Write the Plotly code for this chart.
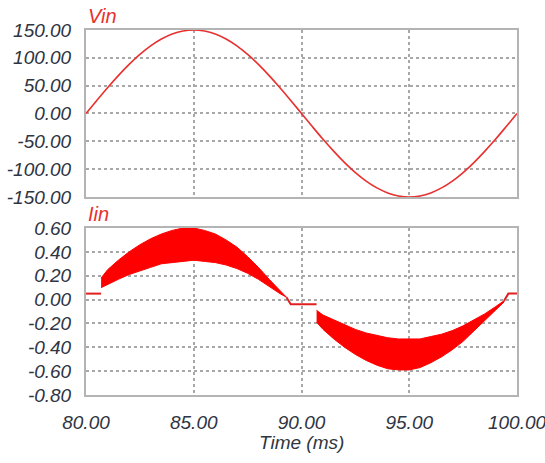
import plotly.graph_objects as go

# ---- data ----
t_vin = [80.0, 80.5, 81.0, 81.5, 82.0, 82.5, 83.0, 83.5, 84.0, 84.5, 85.0,
         85.5, 86.0, 86.5, 87.0, 87.5, 88.0, 88.5, 89.0, 89.5, 90.0,
         90.5, 91.0, 91.5, 92.0, 92.5, 93.0, 93.5, 94.0, 94.5, 95.0,
         95.5, 96.0, 96.5, 97.0, 97.5, 98.0, 98.5, 99.0, 99.5, 100.0]
vin = [0.0, 23.5, 46.4, 68.1, 88.2, 106.1, 121.4, 133.7, 142.7, 148.1, 150.0,
       148.1, 142.7, 133.7, 121.4, 106.1, 88.2, 68.1, 46.4, 23.5, 0.0,
       -23.5, -46.4, -68.1, -88.2, -106.1, -121.4, -133.7, -142.7, -148.1, -150.0,
       -148.1, -142.7, -133.7, -121.4, -106.1, -88.2, -68.1, -46.4, -23.5, 0.0]

# positive half of the switching band
t_pos = [80.7, 81.0, 81.5, 82.0, 82.5, 83.0, 83.5, 84.0, 84.5, 85.0,
         85.5, 86.0, 86.5, 87.0, 87.5, 88.0, 88.5, 89.0, 89.3]
pos_upper = [0.18, 0.25, 0.33, 0.40, 0.46, 0.51, 0.55, 0.58, 0.60, 0.60,
             0.58, 0.55, 0.50, 0.44, 0.36, 0.27, 0.17, 0.08, 0.02]
pos_lower = [0.10, 0.13, 0.17, 0.21, 0.24, 0.27, 0.30, 0.31, 0.32, 0.33,
             0.32, 0.31, 0.29, 0.26, 0.22, 0.17, 0.11, 0.05, 0.02]

# negative half of the switching band
t_neg = [90.7, 91.0, 91.5, 92.0, 92.5, 93.0, 93.5, 94.0, 94.5, 95.0,
         95.5, 96.0, 96.5, 97.0, 97.5, 98.0, 98.5, 99.0, 99.4]
neg_upper = [-0.09, -0.13, -0.17, -0.21, -0.25, -0.28, -0.30, -0.32, -0.33, -0.33,
             -0.33, -0.31, -0.29, -0.26, -0.22, -0.17, -0.12, -0.06, -0.01]
neg_lower = [-0.19, -0.25, -0.33, -0.40, -0.46, -0.51, -0.55, -0.58, -0.59, -0.59,
             -0.57, -0.53, -0.48, -0.42, -0.35, -0.27, -0.18, -0.09, -0.02]

# flat (non-switching) segments
t_flat = [80.0, 80.7, None, 89.3, 89.5, 90.7, None, 99.4, 99.6, 100.0]
i_flat = [0.05, 0.05, None, 0.02, -0.04, -0.04, None, -0.01, 0.05, 0.05]

vin_ticks = [-150, -100, -50, 0, 50, 100, 150]
vin_labels = ["-150.00", "-100.00", "-50.00", "0.00", "50.00", "100.00", "150.00"]
iin_ticks = [-0.8, -0.6, -0.4, -0.2, 0.0, 0.2, 0.4, 0.6]
iin_labels = ["-0.80", "-0.60", "-0.40", "-0.20", "0.00", "0.20", "0.40", "0.60"]
time_ticks = [80, 85, 90, 95, 100]
time_labels = ["80.00", "85.00", "90.00", "95.00", "100.00"]

RED = "#ff0000"
TXT = "#2f3542"
FONT = "Liberation Sans"

fig = go.Figure()

fig.add_trace(go.Scatter(x=t_vin, y=vin, mode="lines", line=dict(color="#e8302e", width=1.6, shape="spline"),
                         xaxis="x2", yaxis="y2", showlegend=False))

fig.add_trace(go.Scatter(x=t_pos + t_pos[::-1], y=pos_upper + pos_lower[::-1], mode="lines",
                         fill="toself", fillcolor=RED, line=dict(color=RED, width=1),
                         xaxis="x", yaxis="y", showlegend=False))
fig.add_trace(go.Scatter(x=t_neg + t_neg[::-1], y=neg_upper + neg_lower[::-1], mode="lines",
                         fill="toself", fillcolor=RED, line=dict(color=RED, width=1),
                         xaxis="x", yaxis="y", showlegend=False))
fig.add_trace(go.Scatter(x=t_flat, y=i_flat, mode="lines", line=dict(color="#e02020", width=2),
                         connectgaps=False, xaxis="x", yaxis="y", showlegend=False))

tickfont = dict(family=FONT, size=19, color=TXT, style="italic")
common_grid = dict(showgrid=True, gridcolor="#a8a8a8", griddash="dot", gridwidth=2,
                   showline=True, mirror=True, linecolor="#b4b4b4", linewidth=2,
                   zeroline=False, ticks="", tickfont=tickfont, ticklabelstandoff=9,
                   automargin=False, ticklabeloverflow="allow")

fig.update_layout(
    width=545, height=463,
    margin=dict(l=86, r=28, t=30, b=68),
    paper_bgcolor="white", plot_bgcolor="white",
    xaxis=dict(domain=[0, 1], anchor="y", range=[80, 100], tickvals=time_ticks,
               ticktext=time_labels, **common_grid),
    yaxis=dict(domain=[0, 0.4575], anchor="x", range=[-0.8, 0.6], tickvals=iin_ticks,
               ticktext=iin_labels, **common_grid),
    xaxis2=dict(domain=[0, 1], anchor="y2", range=[80, 100], tickvals=time_ticks,
                showticklabels=False, matches="x", **common_grid),
    yaxis2=dict(domain=[0.5425, 1], anchor="x2", range=[-150, 150], tickvals=vin_ticks,
                ticktext=vin_labels, **common_grid),
    annotations=[
        dict(text="Vin", xref="paper", yref="paper", x=0.0, y=1.0, xanchor="left", yanchor="bottom",
             yshift=1, showarrow=False, font=dict(family=FONT, size=20, color="#e8302e", style="italic")),
        dict(text="Iin", xref="paper", yref="paper", x=0.0, y=0.4575, xanchor="left", yanchor="bottom",
             yshift=1, showarrow=False, font=dict(family=FONT, size=20, color="#e8302e", style="italic")),
        dict(text="Time (ms)", xref="paper", yref="paper", x=0.5, y=0, xanchor="center", yanchor="top",
             yshift=-35, showarrow=False, font=dict(family=FONT, size=19, color=TXT, style="italic")),
    ],
)

fig.write_html("out.html", config={"displayModeBar": False},
               post_script="document.body.style.margin='0';document.body.style.overflow='hidden';")
